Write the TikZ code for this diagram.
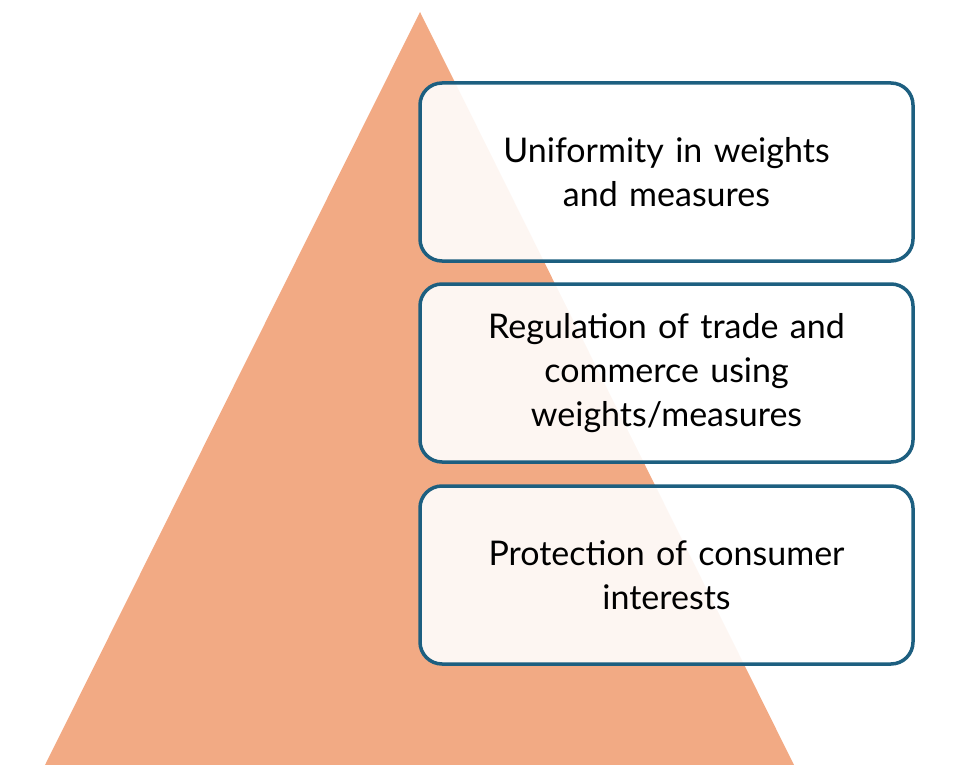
\documentclass[tikz,border=0pt]{standalone}
\usepackage{fontspec}
\setmainfont{Lato}
\begin{document}
\begin{tikzpicture}[x=1pt,y=-1pt,
  box/.style={draw=boxblue,line width=3.5pt,rounded corners=22pt,fill=white,fill opacity=0.9,text opacity=1,
    minimum width=493pt,minimum height=178pt,text width=460pt,align=center,inner sep=0pt,
    font=\fontsize{34}{44}\selectfont}]
\definecolor{boxblue}{HTML}{1D5F80}
\definecolor{tri}{HTML}{F2AA84}
\useasboundingbox (0,0) rectangle (953,765);
\fill[tri] (420,12) -- (794,765) -- (45,765) -- cycle;
\node[box] (b1) at (666.5,172) {Uniformity in weights\\and measures};
\node[box] (b2) at (666.5,373) {Regulation of trade and\\commerce using\\weights/measures};
\node[box] (b3) at (666.5,575) {Protection of consumer\\interests};
\end{tikzpicture}
\end{document}
